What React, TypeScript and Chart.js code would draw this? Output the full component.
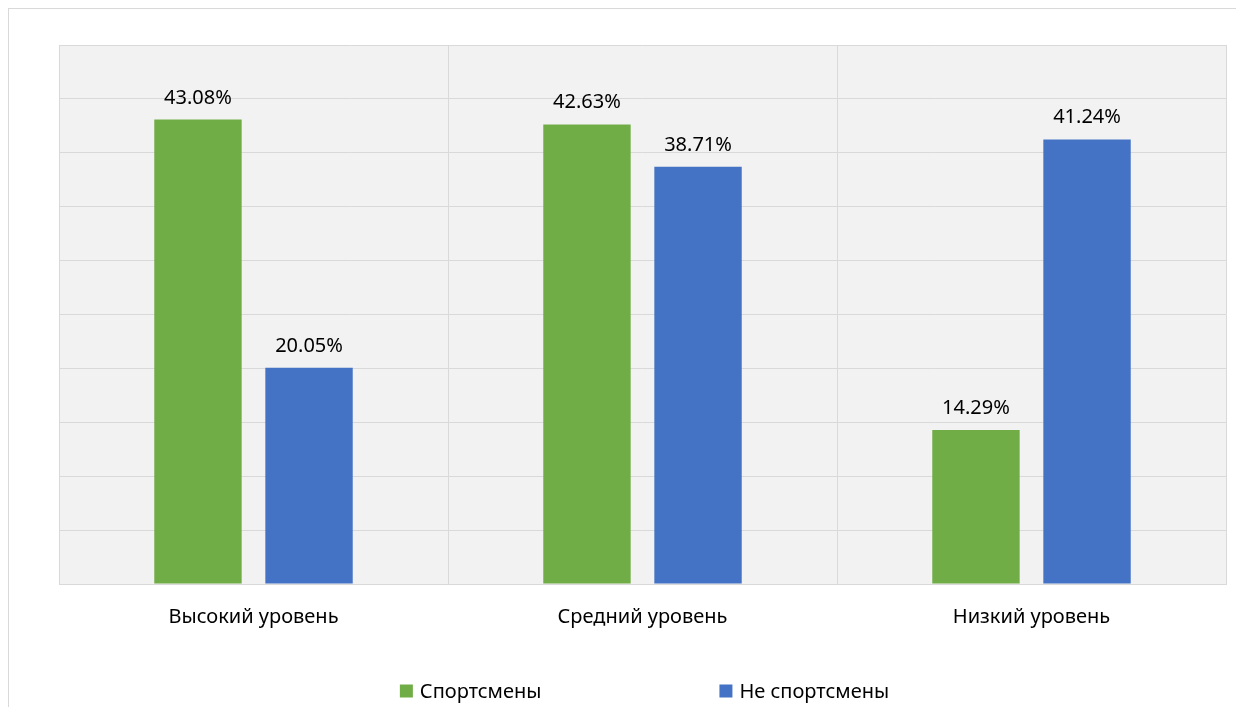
import React, { useEffect, useRef } from "react";
import { Chart, registerables } from "chart.js";

Chart.register(...registerables);

const categories = ["Высокий уровень", "Средний уровень", "Низкий уровень"];
const athletes = [43.08, 42.63, 14.29];
const nonAthletes = [20.05, 38.71, 41.24];
const seriesNames = ["Спортсмены", "Не спортсмены"];
const seriesColors = ["#70AD47", "#4472C4"];

const FONT = "'Noto Sans', 'DejaVu Sans', sans-serif";

// Light grey plot background behind the grid
const plotBackground = {
  id: "plotBackground",
  beforeDraw(chart: any) {
    const { ctx, chartArea } = chart;
    ctx.save();
    ctx.fillStyle = "#f2f2f2";
    ctx.fillRect(chartArea.left, chartArea.top, chartArea.right - chartArea.left, chartArea.bottom - chartArea.top);
    ctx.restore();
  },
};

// Percentage labels above each bar
const valueLabels = {
  id: "valueLabels",
  afterDatasetsDraw(chart: any) {
    const { ctx } = chart;
    ctx.save();
    ctx.font = `20px ${FONT}`;
    ctx.fillStyle = "#000";
    ctx.textAlign = "center";
    ctx.textBaseline = "alphabetic";
    chart.data.datasets.forEach((ds: any, di: number) => {
      const meta = chart.getDatasetMeta(di);
      meta.data.forEach((bar: any, i: number) => {
        const v = ds.data[i] as number;
        ctx.fillText(v.toFixed(2) + "%", bar.x, bar.y - 16);
      });
    });
    ctx.restore();
  },
};

// Legend row under the category labels
const bottomLegend = {
  id: "bottomLegend",
  afterDraw(chart: any) {
    const { ctx } = chart;
    const y = 682;
    const box = 13;
    const gap = 7;
    const itemGap = 178;
    ctx.save();
    ctx.font = `20px ${FONT}`;
    ctx.textBaseline = "middle";
    ctx.textAlign = "left";
    const items = chart.data.datasets.map((ds: any) => ({
      label: ds.label,
      color: ds.backgroundColor,
      w: box + gap + ctx.measureText(ds.label).width,
    }));
    const total = items.reduce((s: number, it: any) => s + it.w, 0) + itemGap * (items.length - 1);
    let x = (chart.chartArea.left + chart.chartArea.right) / 2 - total / 2 + 2;
    items.forEach((it: any) => {
      ctx.fillStyle = it.color;
      ctx.fillRect(x, y - box / 2, box, box);
      ctx.fillStyle = "#000";
      ctx.fillText(it.label, x + box + gap, y + 1);
      x += it.w + itemGap;
    });
    ctx.restore();
  },
};

export default function App() {
  const canvasRef = useRef<HTMLCanvasElement | null>(null);

  useEffect(() => {
    if (!canvasRef.current) return;
    const chart = new Chart(canvasRef.current, {
      type: "bar",
      data: {
        labels: categories,
        datasets: [
          {
            label: seriesNames[0],
            data: athletes,
            backgroundColor: seriesColors[0],
            categoryPercentage: 0.571,
            barPercentage: 0.787,
          },
          {
            label: seriesNames[1],
            data: nonAthletes,
            backgroundColor: seriesColors[1],
            categoryPercentage: 0.571,
            barPercentage: 0.787,
          },
        ],
      },
      options: {
        responsive: false,
        animation: false,
        layout: { padding: { left: 50, right: 13, top: 36, bottom: 59 } },
        plugins: {
          legend: { display: false },
          tooltip: { enabled: false },
        },
        scales: {
          x: {
            grid: { color: "#d9d9d9", drawTicks: false, lineWidth: 1 },
            border: { color: "#d9d9d9" },
            ticks: { color: "#000", font: { family: FONT, size: 20 }, padding: 21 },
          },
          y: {
            min: 0,
            max: 50,
            ticks: { stepSize: 5, display: false },
            grid: { color: "#d9d9d9", drawTicks: false },
            border: { display: false },
          },
        },
      },
      plugins: [plotBackground, valueLabels, bottomLegend],
    });
    return () => chart.destroy();
  }, []);

  return (
    <div style={{ width: 1230, height: 700, border: "1px solid #d9d9d9", background: "#fff" }}>
      <canvas ref={canvasRef} width={1230} height={700} style={{ display: "block" }} />
    </div>
  );
}
